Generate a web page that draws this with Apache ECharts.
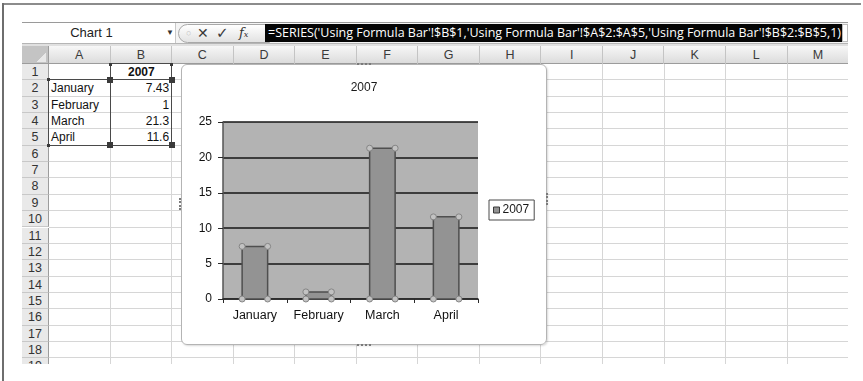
<!DOCTYPE html>
<html><head><meta charset="utf-8">
<script src="https://cdn.jsdelivr.net/npm/echarts@6/dist/echarts.min.js"></script>
<style>
html,body{margin:0;padding:0;background:#fff;width:863px;height:381px;overflow:hidden;font-family:"Liberation Sans",Arial,sans-serif;}
#page{position:relative;width:863px;height:381px;overflow:hidden;}
.a{position:absolute;box-sizing:border-box;white-space:nowrap;}
</style></head><body><div id="page"></div>
<script>
// ---- data ----
const seriesName = '2007';
const categories = ['January', 'February', 'March', 'April'];
const values2007 = [7.43, 1, 21.3, 11.6];
const yTickValues = [0, 5, 10, 15, 20, 25];
const nameBoxText = 'Chart 1';
const formulaText = "=SERIES('Using Formula Bar'!$B$1,'Using Formula Bar'!$A$2:$A$5,'Using Formula Bar'!$B$2:$B$5,1)";
const columnLetters = ['A','B','C','D','E','F','G','H','I','J','K','L','M'];

// ---- spreadsheet backdrop ----
const page = document.getElementById('page');
function box(x, y, w, h, css, html, parent) {
  const d = document.createElement('div');
  d.className = 'a';
  d.style.cssText = `left:${x}px;top:${y}px;width:${w}px;height:${h}px;` + (css || '');
  if (html !== undefined) d.innerHTML = html;
  (parent || page).appendChild(d);
  return d;
}
// outer frame
box(3, 3, 858, 2, 'background:#8c8c8c');
box(2, 3, 2, 378, 'background:#6e6e6e');

// formula bar
box(22, 22, 826, 22, 'background:#f4f4f4;border-top:1px solid #9a9a9a;border-bottom:1px solid #b5b5b5');
box(22, 23, 154, 20, 'background:#fff;border-right:1px solid #c8c8c8;font-size:13px;color:#222;line-height:20px;text-align:center;padding-right:14px', nameBoxText);
box(164, 23, 12, 20, 'font-size:8px;color:#333;line-height:20px;text-align:center', '&#9660;');
box(178, 24, 92, 19, 'border:1px solid #a8a8a8;border-radius:10px 0 0 10px;background:linear-gradient(#ffffff,#e2e2e2)');
box(186, 24, 10, 19, 'font-size:9px;color:#c0c0c0;line-height:19px', '&#9675;');
box(197, 24, 12, 19, 'font-size:14px;color:#3a3a3a;line-height:19px;font-family:"DejaVu Sans"', '&#10005;');
box(216, 24, 14, 19, 'font-size:15px;color:#3a3a3a;line-height:19px;font-family:"DejaVu Sans"', '&#10003;');
box(239, 24, 16, 19, 'font-size:13px;color:#333;line-height:18px;font-family:"DejaVu Serif",serif;font-style:italic', 'f<span style="font-size:8px">x</span>');
box(265, 24, 577, 18, 'background:#050505');
const ft = box(268, 24, 0, 18, 'width:auto;color:#fff;font-family:"Open Sans",sans-serif;font-size:12.5px;line-height:18px;transform-origin:0 0', '');
ft.textContent = formulaText;
const fw = ft.getBoundingClientRect().width;
ft.style.transform = `scaleX(${573 / fw})`;
box(842, 24, 6, 18, 'background:#fff;border:1px solid #bbb');
box(22, 44, 826, 2, 'background:#e0e0e0');

// grid
const colLeft = 49, colW = 61.55, rowTop = 64, rowH = 16.35, gridBottom = 364, gridRight = 848;
const grid = box(22, 46, 826, gridBottom - 46, 'overflow:hidden;background:#fff');
const gx = x => x - 22, gy = y => y - 46;
// column headers
box(0, 0, 826, 18, 'background:linear-gradient(#f7f7f7,#dcdcdc);border-bottom:1px solid #9c9c9c', undefined, grid);
columnLetters.forEach((c, i) => {
  const x = colLeft + i * colW;
  box(gx(x), 0, colW, 18, 'border-right:1px solid #c4c4c4;font-size:12.5px;color:#3a3a3a;line-height:18px;text-align:center', c, grid);
});
// corner
box(0, 0, 27, 18, 'background:#c4c4c4;border-right:1px solid #9c9c9c;border-bottom:1px solid #9c9c9c', undefined, grid);
box(14, 6, 10, 10, 'background:linear-gradient(135deg,transparent 50%,#e8e8e8 50%)', undefined, grid);
// rows
for (let r = 1; r <= 19; r++) {
  const y = rowTop + (r - 1) * rowH;
  box(0, gy(y), 27, rowH, 'background:#e9e9e9;border-right:1px solid #9c9c9c;border-bottom:1px solid #c8c8c8;font-size:12.5px;color:#333;line-height:16px;text-align:center', String(r), grid);
  box(gx(colLeft), gy(y + rowH) - 1, gridRight - colLeft, 1, 'background:#d6d6d6', undefined, grid);
}
columnLetters.forEach((c, i) => {
  const x = colLeft + (i + 1) * colW;
  box(gx(x) - 1, gy(rowTop), 1, gridBottom - rowTop, 'background:#d6d6d6', undefined, grid);
});
// cell values
const cellCss = 'font-size:12px;color:#111;line-height:16px;';
box(gx(colLeft + colW), gy(rowTop), colW, rowH, cellCss + 'text-align:center;font-weight:bold', seriesName, grid);
categories.forEach((c, i) => {
  const y = rowTop + (i + 1) * rowH;
  box(gx(colLeft) + 2, gy(y), colW, rowH, cellCss + 'text-align:left', c, grid);
  box(gx(colLeft + colW), gy(y), colW - 3, rowH, cellCss + 'text-align:right', String(values2007[i]), grid);
});
// range outlines
const outline = (x, y, w, h) => {
  box(gx(x) - 1, gy(y) - 1, w + 1, h + 1, 'border:1.5px solid #4a4a4a', undefined, grid);
};
const rA = rowTop + rowH, rEnd = rowTop + 5 * rowH;
outline(colLeft + colW, rowTop, colW, rowH);
outline(colLeft, rA, colW, rEnd - rA);
outline(colLeft + colW, rA, colW, rEnd - rA);
[[colLeft, rA, 3], [colLeft + colW, rA, 6], [colLeft + 2 * colW, rA, 6], [colLeft, rEnd, 3], [colLeft + colW, rEnd, 6], [colLeft + 2 * colW, rEnd, 6],
 [colLeft + colW, rowTop + 1, 3], [colLeft + 2 * colW, rowTop + 1, 3]].forEach(([x, y, s]) => {
  box(gx(x) - s / 2 - 0.5, gy(y) - s / 2 - 0.5, s, s, 'background:#3a3a3a', undefined, grid);
});

// ---- chart ----
const CX = 182, CY = 65, CW = 364, CH = 279;
const chartDiv = box(CX, CY, CW, CH, 'background:#fff;border-radius:5px');
const border = box(CX - 1, CY - 1, CW + 2, CH + 2, 'border:1px solid #b4b4b4;border-radius:6px;box-shadow:1px 1px 2px rgba(0,0,0,0.15);pointer-events:none');
// chart frame handles
box(CX - 3, CY + 133, 2, 12, 'border-left:2px dotted #7a7a7a');
box(CX + CW, CY + 128, 2, 12, 'border-left:2px dotted #7a7a7a');
box(CX + CW / 2 - 7, CY + CH, 14, 2, 'border-top:2px dotted #7a7a7a');
box(CX + CW / 2 - 7, CY - 2, 14, 2, 'border-top:2px dotted #7a7a7a');

const chart = echarts.init(chartDiv, null, { renderer: 'canvas' });
const barFill = '#939393', barStroke = '#4f4f4f';
chart.setOption({
  animation: false,
  backgroundColor: 'transparent',
  title: {
    text: seriesName, left: 'center', top: 12,
    textStyle: { fontFamily: 'Liberation Sans', fontSize: 12, fontWeight: 'normal', color: '#1a1a1a' }
  },
  legend: {
    left: 307, top: 135, orient: 'vertical',
    data: [seriesName],
    icon: 'rect', itemWidth: 6, itemHeight: 6, itemGap: 0,
    padding: [4, 5, 4, 4],
    borderColor: '#4a4a4a', borderWidth: 1, backgroundColor: '#fff',
    textStyle: { fontFamily: 'Liberation Sans', fontSize: 12, color: '#1a1a1a', padding: [0, 0, 0, -2] },
    itemStyle: { color: barFill, borderColor: '#3a3a3a', borderWidth: 1 }
  },
  grid: {
    left: 41, right: 68, top: 57, bottom: 45,
    show: true, backgroundColor: '#b3b3b3', borderWidth: 0
  },
  xAxis: {
    type: 'category', data: categories,
    axisLine: { lineStyle: { color: '#2a2a2a', width: 1.5 } },
    axisTick: { show: true, length: 4, lineStyle: { color: '#2a2a2a' } },
    axisLabel: { interval: 0, margin: 10, fontFamily: 'Liberation Sans', fontSize: 12.5, color: '#111' },
    splitLine: { show: false }
  },
  yAxis: {
    type: 'value', min: yTickValues[0], max: yTickValues[yTickValues.length - 1],
    interval: yTickValues[1] - yTickValues[0],
    axisLine: { show: true, lineStyle: { color: '#555', width: 1.5 } },
    axisTick: { show: true, length: 5, lineStyle: { color: '#2a2a2a' } },
    axisLabel: { margin: 11, fontFamily: 'Liberation Sans', fontSize: 12, color: '#111' },
    splitLine: { show: true, lineStyle: { color: '#161616', width: 1.5 } }
  },
  series: [{
    name: seriesName,
    type: 'custom',
    itemStyle: { color: barFill, borderColor: barStroke },
    encode: { x: 0, y: 1 },
    data: values2007.map((v, i) => [i, v]),
    renderItem: function (params, api) {
      const ci = api.value(0), v = api.value(1);
      const top = api.coord([ci, v]);
      const base = api.coord([ci, 0]);
      const w = api.size([1, 0])[0] * 0.4;
      const l = top[0] - w / 2, r = top[0] + w / 2;
      const children = [{
        type: 'rect',
        shape: { x: l, y: top[1], width: w, height: base[1] - top[1] },
        style: { fill: barFill, stroke: barStroke, lineWidth: 1.5 }
      }];
      [[l, top[1]], [r, top[1]], [l, base[1]], [r, base[1]]].forEach(p => {
        children.push({ type: 'circle', shape: { cx: p[0], cy: p[1], r: 3 },
          style: { fill: '#c2c2c2', stroke: '#858585', lineWidth: 1 } });
      });
      return { type: 'group', children };
    }
  }]
});
</script>
</body></html>
